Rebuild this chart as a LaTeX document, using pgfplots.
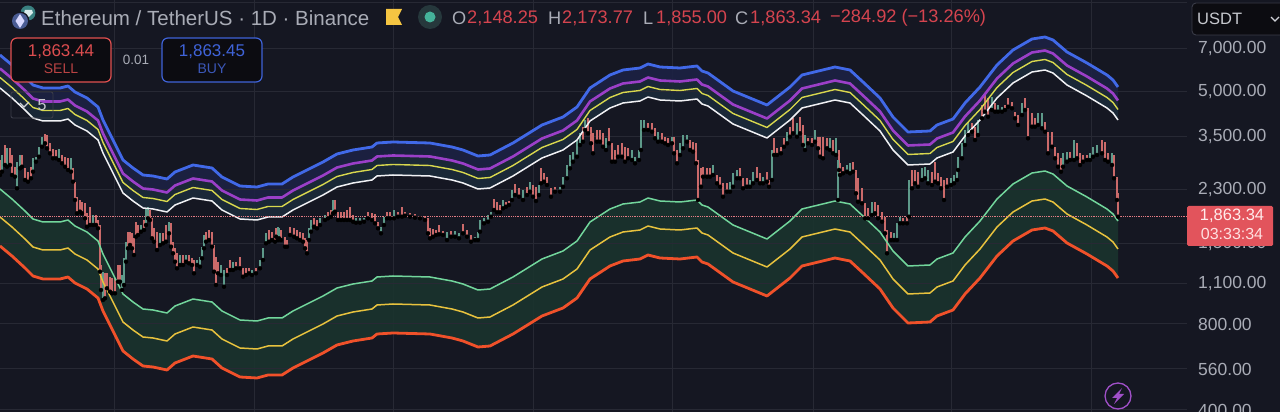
\documentclass[border=0pt]{standalone}
\usepackage{fontspec}
\setmainfont{Liberation Sans}
\usepackage{pgfplots}
\usepackage{pgfplotstable}
\pgfplotsset{compat=1.18}
\usepgfplotslibrary{fillbetween}
% The price scale of the chart is logarithmic. All series are read off the picture
% on that scale: the y unit is the height on the log price scale (126.8 units per e-fold,
% 400 at y=3), x is the position on the time scale; ticks carry the prices.
\definecolor{bg}{HTML}{151722}
\definecolor{gridc}{HTML}{272934}
\definecolor{cblue}{HTML}{4169E8}
\definecolor{cpurp}{HTML}{9B3FC8}
\definecolor{cyell}{HTML}{D8D84E}
\definecolor{cwhite}{HTML}{F0F1F4}
\definecolor{cgreen}{HTML}{72D69C}
\definecolor{corange}{HTML}{E8C23E}
\definecolor{cred}{HTML}{F0512A}
\definecolor{fa}{HTML}{1C2244}
\definecolor{fb}{HTML}{1B2A3A}
\definecolor{fc}{HTML}{1A332E}
\definecolor{cr}{HTML}{CB6A6A}
\definecolor{cg}{HTML}{5E9A8A}
\definecolor{txt}{HTML}{A9ACB6}
\definecolor{hdr}{HTML}{D5444F}
\definecolor{halo}{HTML}{26383C}
\definecolor{dotg}{HTML}{45B39A}
\definecolor{sellb}{HTML}{E05050}
\definecolor{buyb}{HTML}{3F63D8}
\definecolor{boxf}{HTML}{0C0C11}
\definecolor{sellt}{HTML}{DC4D4F}
\definecolor{sells}{HTML}{B94343}
\definecolor{buys}{HTML}{3B57B8}
\definecolor{boxl}{HTML}{3A3C48}
\definecolor{lite}{HTML}{D0D2D8}
\definecolor{litet}{HTML}{C6C8CE}
\definecolor{lastp}{HTML}{E2545C}
\definecolor{bolt}{HTML}{A050C8}
\definecolor{flag}{HTML}{F5C542}
\pgfplotstableread{
x b p y w g o r
0 357 343.5 334.5 324 223 195 166
12 347 333.5 324.5 314 213 185 156
25 335 321.5 312.5 302 201 173 144
33 327 313.5 304.5 294 193 165 136
43 324 310.5 301.5 291 190 162 133
60 324 310.5 301.5 291 190 162 133
68 326 312.5 303.5 293 192 164 135
75 320 306.5 297.5 287 186 158 129
87 314 300.5 291.5 281 180 152 123
98 305 291.5 282.5 272 171 143 114
103 292 278.5 269.5 259 158 130 101
113 272 258.5 249.5 239 138 110 81
123 252 238.5 229.5 219 118 90 61
133 244 230.5 221.5 211 110 82 53
143 237 223.5 214.5 204 103 75 46
153 236 222.5 213.5 203 102 74 45
167 233 219.5 210.5 200 99 71 42
175 240 226.5 217.5 207 106 78 49
193 247 233.5 224.5 214 113 85 56
212 244 230.5 221.5 211 110 82 53
222 235 221.5 212.5 202 101 73 44
240 226 212.5 203.5 193 92 64 35
257 225 211.5 202.5 192 91 63 34
268 228 214.5 205.5 195 94 66 37
282 228 214.5 205.5 195 94 66 37
293 235 221.5 212.5 202 101 73 44
307 242 228.5 219.5 209 108 80 51
323 250 236.5 227.5 217 116 88 59
337 258 244.5 235.5 225 124 96 67
353 262 248.5 239.5 229 128 100 71
372 265 251.5 242.5 232 131 103 74
377 269 255.5 246.5 236 135 107 78
393 270 256.5 247.5 237 136 108 79
430 269 255.5 246.5 236 135 107 78
452 265 251.5 242.5 232 131 103 74
463 262 248.5 239.5 229 128 100 71
478 256 242.5 233.5 223 122 94 65
490 257 243.5 234.5 224 123 95 66
513 269 255.5 246.5 236 135 107 78
542 287 273.5 264.5 254 153 125 96
563 295 281.5 272.5 262 161 133 104
577 305 291.5 282.5 272 171 143 114
590 324 310.5 301.5 291 190 162 133
610 337 323.5 314.5 304 203 175 146
623 342 328.5 319.5 309 208 180 151
640 344 330.5 321.5 311 210 182 153
648 348 334.5 325.5 315 214 186 157
660 345 331.5 322.5 312 211 183 154
680 344 330.5 321.5 311 210 182 153
697 346 332.5 323.5 313 212 184 155
702 341 327.5 318.5 308 207 179 150
708 339 325.5 316.5 306 205 177 148
733 321 307.5 298.5 288 187 159 130
767 307 293.5 284.5 274 173 145 116
790 325 311.5 302.5 292 191 163 134
802 337 323.5 314.5 304 203 175 146
835 345 331.5 322.5 312 211 183 154
850 342 328.5 319.5 309 208 180 151
863 330 316.5 307.5 297 196 168 139
880 314 300.5 291.5 281 180 152 123
893 295 281.5 272.5 262 161 133 104
908 280 266.5 257.5 247 146 118 89
930 281 267.5 258.5 248 147 119 90
937 287 273.5 264.5 254 153 125 96
953 293 279.5 270.5 260 159 131 102
965 309 295.5 286.5 276 175 147 118
980 325 311.5 302.5 292 191 163 134
997 347 333.5 324.5 314 213 185 156
1013 362 348.5 339.5 329 228 200 171
1032 373 359.5 350.5 340 239 211 182
1045 375 361.5 352.5 342 241 213 184
1053 372 358.5 349.5 339 238 210 181
1067 360 346.5 337.5 327 226 198 169
1087 349 335.5 326.5 316 215 187 158
1107 337 323.5 314.5 304 203 175 146
1113 332 318.5 309.5 299 198 170 141
1118 325 311.5 302.5 292 191 163 134
}\bands
\pgfplotstableread{
x l s
0 237 15
5 247 20
10 247 16.7
12 237 20
15 235.3 10
22 245.3 11.7
25 232 11.7
28 230.3 10
31 233.7 11.7
45 268.7 9
47 263.7 13.3
50 258.7 10
53 253.7 9.3
56 253.7 8.3
62 248.7 8.3
65 245.3 10
68 242 11.7
73 230.3 13.3
75 212 18.3
77 198.7 16.7
80 200.3 11.7
82 198.7 11.7
85 193.7 15
87 185.3 13.3
90 187 18.3
96 187 10
98 183.7 8.3
100 140.3 46.7
101 122 25
105 113.7 25
107 123.7 15
110 120.3 15
112 118.7 15
115 118.7 15
118 130.3 16.7
120 130.3 16.7
128 163.7 16.7
130 167 13.3
132 163.7 15
134 157 16.7
136 175.3 15
138 177 10
144 182 10
150 192 10
152 173.7 20
154 170.3 13.3
157 162 18.3
163 168.7 10
166 170.3 16.7
171 165.3 23.3
173 158.7 11.7
175 150.3 13.3
177 143.7 15
183 147 10
189 148.7 8.3
192 147 6.7
194 138.7 13.3
206 170.3 10
209 172 10
212 165.3 15
214 140.3 26.7
216 127 28.3
218 138.7 11.7
227 137 6.7
230 142 10
236 143.7 6.7
240 143.7 11.7
243 135.3 8.3
246 137 6.7
249 138.7 5
256 138.7 5
269 170.3 11.7
272 172 8.3
275 170.3 6.7
276 175.3 8.3
281 172 10
285 165.3 10
287 165.3 6.7
290 177 8.3
294 175.3 8.3
297 173.7 8.3
300 172 8.3
303 170.3 8.3
305 163.7 10
307 158.7 13.3
314 185.3 8.3
317 183.7 8.3
328 193.7 6.7
331 195.3 6.7
335 200.3 11.7
338 192 8.3
341 192 7.7
344 192 7.7
347 192 10
350 192 13.3
353 190.3 6.7
368 193.7 6
372 192 6.7
375 188.7 9
378 183.7 6.7
387 193.7 6.7
390 193.7 6.7
398 195.3 4.3
402 195.3 10
405 196.3 3.3
410 195.3 3.3
415 194.3 3.3
420 193.7 2.7
425 192 4.3
428 178.7 15
430 173.7 10
433 175.3 7.7
436 177 5
439 177.7 9.3
443 177 4
451 175.3 5.7
463 178.7 9
467 175.3 6.7
471 170.3 6.7
494 202 11
497 199.7 10.7
500 199.7 7.3
506 205.3 5
509 207 4
515 217 10.7
519 215.3 8.3
527 217 8.3
533 215.3 11.7
536 211 14.3
541 228.7 15
544 230.3 8.3
547 227 8.3
551 215.3 8.3
555 220.3 5
583 270.3 15
588 278.7 15
591 268.7 16.7
593 258.7 20
597 270.3 11.7
600 270.3 11.7
603 265.3 13.3
609 268.7 15
612 250.3 18.3
615 250.3 11.7
618 255.3 11.7
622 255.3 13.3
625 250.3 15
628 253.7 10
648 282 6.7
652 280.3 8.3
655 273.7 10
662 270.3 8.3
665 268.7 6.7
668 267 6.7
674 258.7 16.7
677 248.7 13.3
690 262 10
693 260.3 10
696 248.7 20
698 212 40
701 225.3 18.3
703 235.3 10
707 235.3 8.3
710 235.3 8.3
717 228.7 8.3
720 225.3 10
723 215.3 13.3
727 220.3 8.3
740 233.7 10
743 223.7 10
747 225.3 8.3
757 232 13.3
760 228.7 10
767 230.3 10
769 225.3 6.7
774 257 16.7
777 257 6.7
781 258.7 6.7
784 265.3 8.3
790 275.3 10
793 278.7 15
800 278.7 16.7
803 267 20
808 268.7 5
812 267 6.7
818 263.7 11.7
820 255.3 20
823 253.7 21.7
827 263.7 10
833 258.7 13.3
839 242 20
840 237 11.7
843 238.7 6.7
853 240.3 10
856 218.7 23.3
858 210.3 23.3
862 208.7 15
865 193.7 15
868 193.7 10
875 198.7 11.7
878 193.7 13.3
882 190.3 10
885 178.7 16.7
887 158.7 23.3
891 172 8.3
903 188.7 5
907 188.7 6.7
912 223.7 18.3
915 228.7 13.3
918 225.3 15
932 227 13.3
935 230.3 20
938 228.7 10
941 223.7 11.7
944 212 20
947 225.3 8.3
972 280.3 8.3
975 272 13.3
982 293.7 13.3
985 300.3 16.7
988 295.3 18.3
995 300.3 8.3
1005 302 5
1008 305.3 8.3
1012 303.7 6.7
1015 293.7 6.7
1018 287 10
1025 302 11.7
1028 273.7 30
1032 285.3 13.3
1035 285.3 8.3
1045 280.3 10
1048 258.7 21.7
1052 265.3 15
1055 253.7 11.7
1058 245.3 13.3
1061 240.3 13.3
1070 252 8.3
1077 253.7 15
1080 247 11.7
1083 250.3 6.7
1087 252 5
1102 258.7 13.3
1105 252 18.3
1108 250.3 8.3
1114 233.7 23.3
1117 212 23.3
1118 195.3 23.3
}\redc
\pgfplotstableread{
x l s
2 240.3 16.7
7 245.3 18.3
17 223.7 26.7
20 243.7 13.3
33 240.3 13.3
36 250.3 5
39 255.3 10
42 265.3 10
59 252 11
71 240.3 13.3
93 187 10
103 112 28.3
122 122 15
124 127 26.7
126 150.3 20
141 180.3 6.7
146 187 16.7
148 193.7 11.7
160 167 11.7
169 178.7 11.7
180 147 10
186 150.3 6.7
197 147 5
200 145.3 10
202 153.7 11.7
204 163.7 13.3
221 137 10
224 125.3 16.7
233 142 8.3
252 137 5
260 143.7 8.3
263 152 11.7
266 168.7 10
278 172 13.3
279 173.7 10
309 172 11.7
311 180.3 11.7
320 187 6.7
325 192 5
333 198.7 13.3
356 189.3 4.3
360 189.3 4.3
364 190.3 4
381 178.7 6.7
384 187 8.3
394 193.7 8.3
447 172 8.3
455 175.3 5.7
459 173.7 5
475 172 3.3
478 172 8.3
480 180.3 11.7
484 188.7 5.7
488 190.3 6.7
491 195.3 4.3
503 203.7 8.3
512 212 10
523 212 10
530 220.3 10
539 217 10
560 220.3 5
563 225.3 10
567 233.7 13.3
570 243.7 13.3
573 250.3 10
577 255.3 16.7
580 267 11.7
585 282 10
606 262 11.7
632 252 10
635 248.7 6.7
639 252 10
641 262 30
644 282 10
658 270.3 10
672 268.7 6.7
680 257 11.7
683 263.7 13.3
687 270.3 6.7
713 237 10
730 220.3 10
733 225.3 13.3
737 233.7 8.3
750 225.3 6.7
753 228.7 11.7
763 228.7 6.7
772 232 30
787 268.7 11.7
797 275.3 13.3
805 262 15
815 270.3 11.7
830 262 11.7
836 257 16.7
838 212 40
847 240.3 6.7
850 238.7 10
872 197 13.3
894 172 6.7
897 172 16.7
900 188.7 6.7
909 195.3 36.7
922 232 11.7
925 233.7 11.7
928 228.7 13.3
951 227 6.7
954 228.7 8.3
957 232 10
958 242 13.3
962 253.7 15
965 267 15
968 277 13.3
978 277 15
992 302 13.3
998 300.3 6.7
1002 300.3 5
1022 297 11.7
1038 287 11.7
1042 283.7 15
1063 245.3 13.3
1067 250.3 10
1074 252 20
1090 252 6.7
1093 255.3 10
1097 257 10
1112 247 11.7
}\greenc
\begin{document}
\begin{tikzpicture}
\begin{axis}[
  at={(0,0)},anchor=south west,scale only axis,
  width=1280pt,height=412pt,
  xmin=0,xmax=1280,ymin=0,ymax=412,
  axis background/.style={fill=bg},
  axis line style={draw=none},
  major tick length=0pt,
  xmajorgrids=true,
  ymajorgrids=false,
  major grid style={gridc,line width=0.9pt},
  xtick={114,254,393,533,672,813,951,1091},
  xticklabels={},
  ytick={364,321,276,223,169,129,89,44,3},
  yticklabels={{7,000.00},{5,000.00},{3,500.00},{2,300.00},{1,500.00},{1,100.00},{800.00},{560.00},{400.00}},
  yticklabel pos=right,
  yticklabel style={anchor=west,inner sep=0pt,xshift=-82pt,yshift=-1pt,font=\fontsize{17.5}{18}\selectfont,text=txt},
]
\addplot[draw=none,name path=B,forget plot] table[x=x,y=b]{\bands};
\addplot[draw=none,name path=P,forget plot] table[x=x,y=p]{\bands};
\addplot[draw=none,name path=W,forget plot] table[x=x,y=w]{\bands};
\addplot[draw=none,name path=G,forget plot] table[x=x,y=g]{\bands};
\addplot[draw=none,name path=R,forget plot] table[x=x,y=r]{\bands};
\addplot[fa,fill opacity=0.9,forget plot] fill between[of=B and P];
\addplot[fb,fill opacity=0.9,forget plot] fill between[of=P and W];
\addplot[fc,fill opacity=0.9,forget plot] fill between[of=G and R];
% horizontal price grid
\pgfplotsinvokeforeach{410,364,321,276,223,169,129,89,44,3}{
  \addplot[gridc,line width=0.9pt,mark=none,forget plot] coordinates {(0,#1) (1187,#1)};
}
\addplot[only marks,mark=none,forget plot,error bars/.cd,y dir=plus,y explicit,error mark=none,
  error bar style={cr,line width=2.1pt}] table[x=x,y=l,y error plus=s]{\redc};
\addplot[only marks,mark=none,forget plot,error bars/.cd,y dir=plus,y explicit,error mark=none,
  error bar style={cg,line width=2.1pt}] table[x=x,y=l,y error plus=s]{\greenc};
\addplot[cwhite,line width=1.5pt,line join=round,mark=none] table[x=x,y=w]{\bands};
\addplot[cyell,line width=1.4pt,line join=round,mark=none] table[x=x,y=y]{\bands};
\addplot[cpurp,line width=2.6pt,line join=round,mark=none] table[x=x,y=p]{\bands};
\addplot[cblue,line width=2.8pt,line join=round,mark=none] table[x=x,y=b]{\bands};
\addplot[cgreen,line width=1.5pt,line join=round,mark=none] table[x=x,y=g]{\bands};
\addplot[corange,line width=1.5pt,line join=round,mark=none] table[x=x,y=o]{\bands};
\addplot[cred,line width=2.8pt,line join=round,mark=none] table[x=x,y=r]{\bands};
\addplot[hdr!70!white,densely dotted,line width=0.8pt,mark=none] coordinates {(0,196) (1187,196)};
\end{axis}
\begin{scope}[yshift=412pt,x=1pt,y=-1pt]
% header
\fill[teal!55!gray] (28,13) circle (7.5);
\fill[white!85!teal] (25,10)--(32,10)--(33,13)--(28,18)--(24,13)--cycle;
\fill[bg] (20,21) circle (9.5);
\fill[cblue!55!gray!80!black] (20,21) circle (8);
\fill[white!85!blue] (20,14)--(24.5,21)--(20,28)--(15.5,21)--cycle;
\node[anchor=west,inner sep=0,text=txt,font=\fontsize{20.5}{22}\selectfont] at (41,18) {Ethereum / TetherUS · 1D · Binance};
\fill[flag] (386,9)--(402,9)--(398,17)--(402,25)--(386,25)--cycle;
\fill[halo] (430,17) circle (12);
\fill[dotg] (430,17) circle (5.5);
\begin{scope}[every node/.style={anchor=west,inner sep=0,font=\fontsize{18.2}{19}\selectfont}]
\node[text=txt] at (452,18) {O};
\node[text=hdr] at (467,18) {2,148.25};
\node[text=txt] at (548,18) {H};
\node[text=hdr] at (562,18) {2,173.77};
\node[text=txt] at (643,18) {L};
\node[text=hdr] at (656,18) {1,855.00};
\node[text=txt] at (735,18) {C};
\node[text=hdr] at (750,18) {1,863.34};
\node[text=hdr] at (830,18) {−284.92 (−13.26\%)};
\end{scope}
% sell / buy
\draw[sellb,fill=boxf,line width=1.2pt,rounded corners=6] (11,38) rectangle (111,82);
\draw[buyb,fill=boxf,line width=1.2pt,rounded corners=6] (162,38) rectangle (262,82);
\node[text=sellt,font=\fontsize{17}{18}\selectfont] at (61,52) {1,863.44};
\node[text=sells,font=\fontsize{14}{15}\selectfont] at (61,69) {SELL};
\node[text=buyb,font=\fontsize{17}{18}\selectfont] at (212,52) {1,863.45};
\node[text=buys,font=\fontsize{14}{15}\selectfont] at (212,69) {BUY};
\node[text=txt,font=\fontsize{13.5}{14}\selectfont] at (136,60) {0.01};
\draw[boxl,line width=0.9pt,rounded corners=2] (11,92) rectangle (53,118);
\draw[lite,line width=1.1pt] (20,103)--(24,107)--(29,102);
\node[text=litet,font=\fontsize{16}{17}\selectfont] at (42,105.5) {5};
% currency box
\draw[boxl,fill=boxf,line width=0.9pt,rounded corners=4] (1192,3) rectangle (1300,35);
\node[anchor=west,inner sep=0,text=litet,font=\fontsize{16.5}{17}\selectfont] at (1197,19) {USDT};
\draw[lite,line width=1.2pt] (1271,17)--(1275,21)--(1279,17);
% last price
\fill[lastp,rounded corners=1.5] (1187,206) rectangle (1273,246);
\node[text=white!92!red,font=\fontsize{16.5}{17}\selectfont] at (1232,216) {1,863.34};
\node[text=white!88!red,font=\fontsize{16}{17}\selectfont] at (1232,234) {03:33:34};
% lightning badge
\draw[bolt,line width=1.3pt] (1118,396) circle (13);
\fill[bolt] (1122,388)--(1112,398)--(1117,398)--(1114,404)--(1124,394)--(1119,394)--cycle;
\end{scope}
\pgfresetboundingbox
\path[use as bounding box] (0,0) rectangle (1280pt,412pt);
\end{tikzpicture}
\end{document}
